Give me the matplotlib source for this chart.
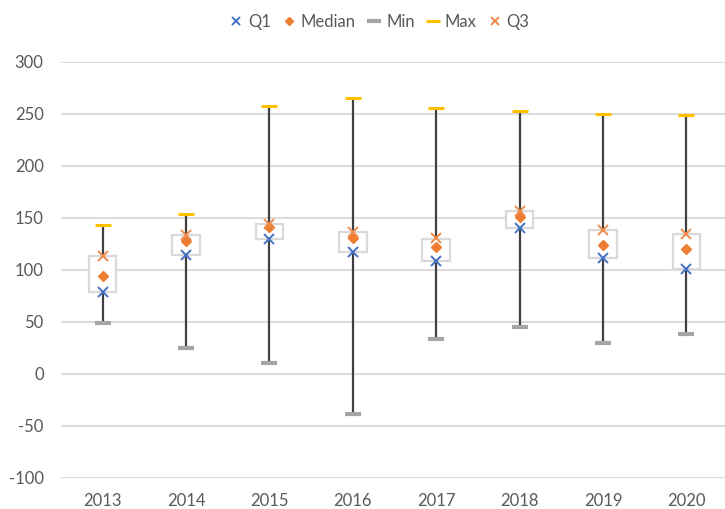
import matplotlib.pyplot as plt
from matplotlib.patches import Rectangle

years = ['2013', '2014', '2015', '2016', '2017', '2018', '2019', '2020']
q1 = [78.7, 114, 129.4, 117.2, 108.8, 140.5, 110.9, 100.6]
median = [94, 127.8, 141.3, 130.1, 122, 151, 124, 120]
q3 = [113.4, 133, 144, 136.5, 130, 156, 138, 134.3]
mins = [48.3, 24.3, 10.4, -38.3, 32.9, 45, 30, 38.3]
maxs = [142.8, 153.2, 257, 265.4, 255.2, 252.3, 249.5, 248.5]

plt.rcParams['font.family'] = ['Lato', 'DejaVu Sans']
plt.rcParams['axes.unicode_minus'] = False

fig = plt.figure(figsize=(7.25, 5.09), dpi=100)
ax = fig.add_axes([61 / 725, 31.3 / 509, 667 / 725, 416 / 509])

x = list(range(len(years)))

# whiskers from min to max, box covers the middle part
ax.vlines(x, mins, maxs, color='#404040', linewidth=1.6, zorder=2)
for i in x:
    ax.add_patch(Rectangle((i - 0.165, q1[i]), 0.33, q3[i] - q1[i],
                           facecolor='white', edgecolor='#D9D9D9',
                           linewidth=1.6, zorder=3))

ax.plot(x, q1, linestyle='none', marker='x', color='#4472C4', ms=7, mew=1.4, label='Q1', zorder=5)
ax.plot(x, median, linestyle='none', marker='D', color='#ED7D31', ms=5, label='Median', zorder=5)
ax.plot(x, mins, linestyle='none', marker='_', color='#A5A5A5', ms=11.5, mew=3, label='Min', zorder=5)
ax.plot(x, maxs, linestyle='none', marker='_', color='#FFC000', ms=12, mew=2.2, label='Max', zorder=5)
ax.plot(x, q3, linestyle='none', marker='x', color='#F08A4B', ms=7, mew=1.4, label='Q3', zorder=5)

ax.set_xlim(-0.5, len(years) - 0.5)
ax.set_ylim(-100, 300)
ax.set_yticks(range(-100, 301, 50))
ax.set_xticks(x)
ax.set_xticklabels(years)
ax.grid(axis='y', color='#D9D9D9', linewidth=1.3)
ax.set_axisbelow(True)
for s in ax.spines.values():
    s.set_visible(False)
ax.tick_params(length=0, labelsize=12, labelcolor='#595959')
ax.tick_params(axis='y', pad=12.5)
ax.tick_params(axis='x', pad=11)

leg = fig.legend(loc='center', bbox_to_anchor=(380 / 725, 1 - 22 / 509), ncol=5, frameon=False,
                 fontsize=12, handlelength=0.7, handletextpad=0.35, columnspacing=0.75,
                 borderaxespad=0)
for h in leg.legend_handles:
    h.set_markersize(h.get_markersize() * 0.85)
for t in leg.get_texts():
    t.set_color('#595959')

fig.savefig('out.png', dpi=100)
